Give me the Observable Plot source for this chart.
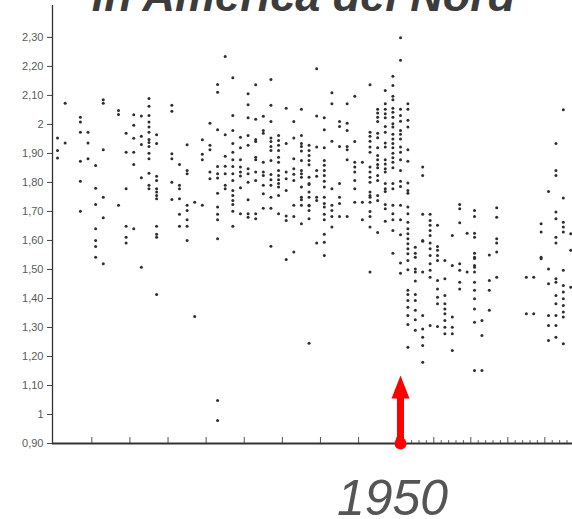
<!DOCTYPE html>
<html>
<head>
<meta charset="utf-8">
<script src="https://cdn.jsdelivr.net/npm/d3@7"></script>
<script src="https://cdn.jsdelivr.net/npm/@observablehq/plot@0.6"></script>
<style>
  body { margin: 0; background: #fff; }
  #chart { width: 572px; height: 519px; overflow: hidden; }
</style>
</head>
<body>
<div id="chart"></div>
<script>
// ---- text ----
const titleText = "in America del Nord";
const markerYear = 1950;
const markerLabel = "1950";

// ---- axis ticks ----
const yTicks = [0.9, 1, 1.1, 1.2, 1.3, 1.4, 1.5, 1.6, 1.7, 1.8, 1.9, 2, 2.1, 2.2, 2.3];
const yTickLabels = ["0,90", "1", "1,10", "1,20", "1,30", "1,40", "1,50", "1,60", "1,70", "1,80", "1,90", "2", "2,10", "2,20", "2,30"];
const majorTicks = [1909.5, 1914.5, 1919.5, 1924.5, 1929.5, 1934.5, 1939.5, 1944.5, 1949.5, 1954.5, 1959.5, 1964.5, 1969.5];
const minorTicks = [1950.5, 1951.5, 1952.5, 1953.5, 1955.5, 1956.5, 1957.5, 1958.5, 1960.5, 1961.5, 1962.5, 1963.5, 1965.5, 1966.5, 1967.5, 1968.5, 1970.5, 1971.5, 1972.5];

// ---- data: [year, value] ----
const earlyPoints = [
[1906,2.073],[1911,2.085],[1911,2.073],[1917,2.089],[1917,2.063],[1920,2.066],[1920,2.045],[1913,2.048],[1913,2.034],[1915,2.033],
[1916,2.029],[1917,2.031],[1908,2.025],[1908,2.008],[1917,2.008],[1917,1.991],[1917,1.973],[1915,1.997],[1914,1.970],[1908,1.973],
[1909,1.973],[1905,1.953],[1906,1.936],[1909,1.936],[1915,1.952],[1916,1.959],[1916,1.931],[1917,1.948],[1917,1.938],[1917,1.924],
[1918,1.964],[1918,1.934],[1922,1.930],[1905,1.910],[1905,1.884],[1911,1.913],[1914,1.904],[1915,1.904],[1917,1.901],[1917,1.882],
[1920,1.899],[1920,1.882],[1908,1.873],[1909,1.882],[1910,1.858],[1915,1.862],[1921,1.862],[1922,1.841],[1922,1.830],[1917,1.832],
[1916,1.816],[1918,1.821],[1918,1.807],[1908,1.804],[1920,1.801],[1914,1.778],[1910,1.780],[1917,1.790],[1917,1.778],[1918,1.778],
[1918,1.767],[1918,1.755],[1918,1.744],[1921,1.790],[1921,1.778],[1920,1.741],[1921,1.744],[1911,1.749],[1910,1.724],[1913,1.721],
[1922,1.721],[1908,1.701],[1911,1.678],[1921,1.690],[1914,1.649],[1915,1.640],[1918,1.649],[1910,1.640],[1921,1.649],[1922,1.649],
[1918,1.621],[1918,1.611],[1914,1.611],[1914,1.591],[1910,1.600],[1910,1.579],[1910,1.542],[1911,1.520],[1916,1.508],[1922,1.703],
[1922,1.600],[1918,1.414],[1923,1.338],[1926,1.048],[1926,0.979]
];
const interwarPoints = [
[1927,2.234],[1928,2.161],[1926,2.138],[1926,2.111],[1931,2.137],[1933,2.155],[1930,2.106],[1930,2.068],[1933,2.066],[1925,2.004],
[1928,2.031],[1930,2.023],[1931,2.018],[1932,2.028],[1933,2.010],[1935,2.056],[1936,2.010],[1937,2.052],[1926,1.982],[1927,1.964],
[1928,1.979],[1929,1.956],[1929,1.920],[1930,1.962],[1930,1.928],[1931,1.948],[1931,1.941],[1932,1.979],[1932,1.970],[1933,1.953],
[1933,1.941],[1933,1.924],[1934,1.962],[1934,1.945],[1934,1.928],[1934,1.910],[1935,1.934],[1936,1.953],[1937,1.962],[1937,1.934],
[1924,1.947],[1925,1.928],[1925,1.913],[1928,1.934],[1933,1.910],[1928,1.904],[1928,1.878],[1927,1.890],[1924,1.897],[1924,1.878],
[1931,1.887],[1931,1.878],[1929,1.878],[1932,1.870],[1933,1.876],[1934,1.887],[1934,1.870],[1936,1.882],[1937,1.876],[1935,1.836],
[1936,1.847],[1936,1.828],[1937,1.841],[1937,1.818],[1926,1.855],[1926,1.830],[1926,1.815],[1927,1.856],[1927,1.830],[1928,1.855],
[1928,1.830],[1928,1.807],[1925,1.836],[1925,1.813],[1929,1.853],[1929,1.836],[1929,1.822],[1930,1.847],[1930,1.830],[1931,1.836],
[1931,1.807],[1932,1.836],[1932,1.824],[1933,1.827],[1933,1.809],[1934,1.841],[1934,1.824],[1934,1.809],[1935,1.813],[1936,1.807],
[1927,1.790],[1927,1.778],[1929,1.782],[1930,1.801],[1932,1.790],[1933,1.790],[1934,1.796],[1934,1.784],[1937,1.784],[1938,1.796],
[1928,1.772],[1928,1.755],[1928,1.738],[1928,1.724],[1926,1.763],[1930,1.740],[1932,1.761],[1933,1.749],[1934,1.755],[1935,1.772],
[1936,1.721],[1937,1.749],[1937,1.740],[1938,1.721],[1924,1.721],[1926,1.715],[1928,1.701],[1929,1.692],[1930,1.692],[1930,1.680],
[1931,1.692],[1931,1.675],[1932,1.711],[1933,1.711],[1934,1.692],[1935,1.669],[1936,1.683],[1937,1.658],[1926,1.690],[1926,1.671],
[1928,1.649],[1926,1.606],[1933,1.580],[1935,1.534],[1936,1.560],[1923,1.732],[1922,1.671],[1935,1.684],[1938,1.675],[1938,1.720]
];
const latePoints = [
[1950,2.299],[1939,2.192],[1950,2.221],[1949,2.166],[1949,2.134],[1946,2.137],[1941,2.109],[1944,2.097],[1948,2.117],[1949,2.097],
[1949,2.085],[1941,2.071],[1943,2.071],[1948,2.071],[1951,2.071],[1951,2.052],[1950,2.052],[1947,2.052],[1947,2.039],[1947,2.025],
[1947,2.010],[1948,2.052],[1948,2.037],[1948,2.023],[1949,2.056],[1949,2.042],[1949,2.025],[1939,2.029],[1940,2.023],[1942,2.010],
[1942,1.993],[1943,2.004],[1940,1.982],[1948,1.993],[1948,1.973],[1949,2.002],[1949,1.991],[1950,2.031],[1950,2.011],[1951,2.014],
[1951,1.991],[1946,1.973],[1946,1.959],[1946,1.942],[1947,1.970],[1947,1.954],[1950,1.979],[1950,1.966],[1950,1.950],[1949,1.966],
[1949,1.950],[1943,1.979],[1942,1.924],[1943,1.924],[1943,1.913],[1941,1.942],[1944,1.941],[1946,1.922],[1946,1.904],[1947,1.920],
[1947,1.893],[1948,1.936],[1948,1.922],[1949,1.934],[1949,1.920],[1949,1.901],[1950,1.922],[1950,1.904],[1951,1.913],[1937,1.924],
[1937,1.908],[1938,1.928],[1938,1.910],[1938,1.893],[1939,1.922],[1940,1.920],[1938,1.876],[1938,1.861],[1940,1.876],[1940,1.859],
[1940,1.841],[1943,1.878],[1944,1.870],[1944,1.853],[1944,1.836],[1945,1.870],[1946,1.853],[1946,1.836],[1946,1.818],[1946,1.801],
[1947,1.878],[1947,1.862],[1947,1.851],[1948,1.878],[1948,1.864],[1948,1.847],[1948,1.836],[1949,1.885],[1949,1.870],[1949,1.851],
[1950,1.878],[1950,1.841],[1951,1.873],[1953,1.853],[1953,1.824],[1937,1.830],[1938,1.818],[1938,1.793],[1939,1.841],[1939,1.821],
[1940,1.824],[1940,1.804],[1940,1.784],[1941,1.778],[1942,1.796],[1944,1.807],[1944,1.778],[1946,1.767],[1946,1.755],[1947,1.824],
[1947,1.807],[1948,1.796],[1948,1.778],[1948,1.769],[1949,1.796],[1949,1.778],[1950,1.804],[1950,1.786],[1951,1.798],[1951,1.772],
[1951,1.763],[1937,1.721],[1938,1.767],[1938,1.749],[1939,1.749],[1939,1.738],[1940,1.749],[1940,1.727],[1941,1.721],[1941,1.703],
[1942,1.749],[1942,1.727],[1944,1.732],[1945,1.732],[1946,1.749],[1946,1.732],[1947,1.755],[1947,1.738],[1948,1.724],[1948,1.709],
[1949,1.721],[1950,1.721],[1951,1.715],[1951,1.692],[1938,1.703],[1940,1.715],[1940,1.690],[1940,1.671],[1941,1.683],[1942,1.683],
[1943,1.683],[1945,1.671],[1946,1.700],[1946,1.683],[1948,1.666],[1949,1.692],[1949,1.671],[1950,1.671],[1951,1.663],[1939,1.591],
[1940,1.621],[1940,1.594],[1941,1.646],[1946,1.646],[1947,1.627],[1949,1.634],[1950,1.620],[1951,1.640],[1951,1.623],[1951,1.606],
[1951,1.589],[1951,1.571],[1951,1.554],[1953,1.690],[1954,1.690],[1954,1.669],[1954,1.652],[1954,1.634],[1954,1.617],[1955,1.652],
[1952,1.577],[1952,1.556],[1953,1.597],[1954,1.591],[1955,1.579],[1955,1.566],[1955,1.548],[1957,1.617],[1958,1.724],[1958,1.709],
[1958,1.661],[1959,1.625],[1960,1.625],[1960,1.611],[1960,1.703],[1960,1.683],[1963,1.713],[1963,1.680],[1963,1.606],[1963,1.591],
[1963,1.560],[1960,1.556],[1960,1.542],[1962,1.550],[1949,1.556],[1969,1.658],[1969,1.629],[1972,2.051],[1971,1.934],[1971,1.841],
[1971,1.824],[1970,1.769],[1972,1.746],[1971,1.698],[1971,1.675],[1972,1.663],[1972,1.646],[1972,1.629],[1973,1.623],[1971,1.611],
[1971,1.591],[1969,1.542],[1950,1.522],[1950,1.487],[1951,1.531],[1951,1.499],[1952,1.491],[1953,1.491],[1946,1.491],[1952,1.460],
[1951,1.428],[1951,1.414],[1951,1.393],[1952,1.414],[1952,1.393],[1938,1.246],[1940,1.548],[1951,1.370],[1951,1.341],[1951,1.310],
[1952,1.542],[1952,1.502],[1952,1.359],[1952,1.327],[1952,1.290],[1951,1.232],[1953,1.341],[1953,1.295],[1953,1.266],[1953,1.238],
[1953,1.180],[1954,1.571],[1954,1.548],[1954,1.520],[1954,1.497],[1954,1.473],[1954,1.307],[1955,1.303],[1955,1.531],[1955,1.462],
[1955,1.433],[1955,1.404],[1955,1.382],[1956,1.531],[1956,1.468],[1956,1.410],[1956,1.382],[1956,1.364],[1956,1.347],[1956,1.324],
[1956,1.301],[1956,1.278],[1957,1.336],[1957,1.301],[1957,1.278],[1957,1.221],[1957,1.514],[1958,1.520],[1958,1.497],[1958,1.456],
[1958,1.433],[1959,1.491],[1960,1.538],[1960,1.514],[1960,1.491],[1960,1.456],[1960,1.428],[1960,1.399],[1960,1.364],[1960,1.152],
[1961,1.152],[1961,1.324],[1961,1.272],[1960,1.318],[1960,1.508],[1962,1.462],[1962,1.428],[1962,1.359],[1963,1.473],[1967,1.473],
[1968,1.473],[1967,1.347],[1968,1.347],[1969,1.537],[1970,1.502],[1970,1.451],[1970,1.341],[1970,1.307],[1970,1.255],[1971,1.468],
[1971,1.456],[1971,1.410],[1971,1.382],[1971,1.341],[1971,1.307],[1971,1.266],[1972,1.497],[1972,1.445],[1972,1.422],[1972,1.399],
[1972,1.376],[1972,1.353],[1972,1.336],[1972,1.244],[1973,1.566],[1973,1.439],[1953,1.600]
];

// arrow annotation (data units)
const arrowData = [{year: markerYear, base: 0.9, neck: 1.065, tip: 1.134, label: markerLabel}];

const points = [...earlyPoints, ...interwarPoints, ...latePoints].map(([year, value]) => ({year, value}));
const xDomain = [1904.34, 1950, 1973.24];

const arrowHead = {
  draw(ctx) {
    ctx.moveTo(0, 0);
    ctx.lineTo(9, 23);
    ctx.lineTo(-9, 23);
    ctx.closePath();
  }
};

const chart = Plot.plot({
  width: 572,
  height: 519,
  marginLeft: 52,
  marginRight: 0,
  marginTop: 5,
  marginBottom: 76,
  style: {overflow: "visible", fontFamily: "'Liberation Sans', Arial, sans-serif", background: "#fff"},
  x: {type: "linear", domain: xDomain, range: [52, 400, 572], axis: null},
  y: {type: "linear", domain: [0.9, 2.41], axis: null},
  marks: [
    Plot.axisY(yTicks, {
      tickFormat: d => yTickLabels[yTicks.indexOf(d)],
      tickSize: 5, tickPadding: 4, fontSize: 11,
      stroke: "#444", fill: "#5a5a5a", label: null
    }),
    Plot.ruleX([xDomain[0]], {stroke: "#333", strokeWidth: 1.3}),
    Plot.tickX(majorTicks, {x: d => d, insetTop: 432, stroke: "#555", strokeWidth: 1}),
    Plot.tickX(minorTicks, {x: d => d, insetTop: 435, stroke: "#666", strokeWidth: 1}),
    Plot.ruleY([0.9], {stroke: "#333", strokeWidth: 1.8}),
    Plot.dot(points, {x: "year", y: "value", r: 1.5, fill: "#2e2e2e", stroke: null}),
    Plot.ruleX(arrowData, {x: "year", y1: "base", y2: "neck", stroke: "#ff0000", strokeWidth: 7}),
    Plot.dot(arrowData, {x: "year", y: "tip", symbol: arrowHead, r: 5, fill: "#ff0000", stroke: null}),
    Plot.dot(arrowData, {x: "year", y: "base", r: 6, fill: "#ff0000", stroke: null}),
    Plot.text(arrowData, {x: "year", text: "label", frameAnchor: "bottom", lineAnchor: "bottom", dy: 71, dx: -8,
      fontSize: 50, fontStyle: "italic", fill: "#555"}),
    Plot.text([titleText], {text: d => d, frameAnchor: "top", lineAnchor: "middle", dx: -9, dy: -9,
      fontSize: 45, fontWeight: "bold", fontStyle: "italic", fill: "#3c3c3c"})
  ]
});
document.getElementById("chart").append(chart);
</script>
</body>
</html>
